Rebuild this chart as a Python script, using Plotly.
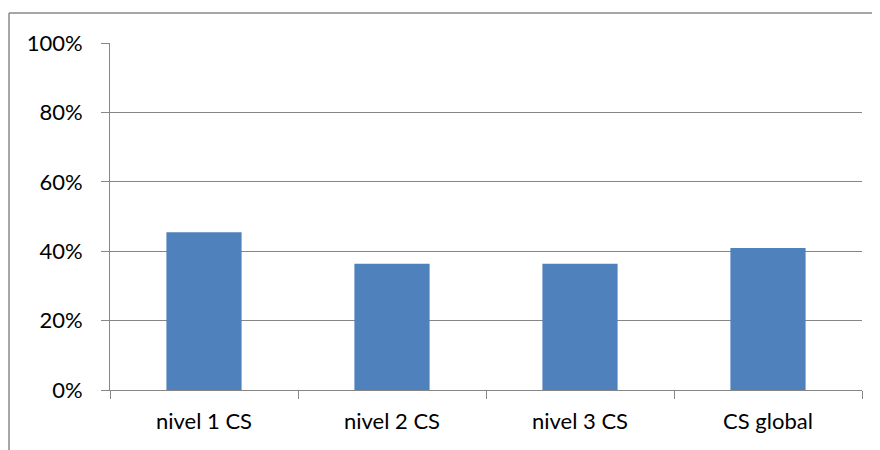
import plotly.graph_objects as go

categories = ["nivel 1 CS", "nivel 2 CS", "nivel 3 CS", "CS global"]
values = [0.4545, 0.3636, 0.3636, 0.4091]
y_ticks = [0, 0.2, 0.4, 0.6, 0.8, 1.0]
y_tick_labels = ["0%", "20%", "40%", "60%", "80%", "100%"]

# the page body adds an 8px offset, so the figure is sized/positioned to compensate
OFF = 8
W, H = 880 - OFF, 450 - OFF
L, R, T, B = 110 - OFF, 18, 43 - OFF, 60
pw, ph = W - L - R, H - T - B

grid = "#868686"
font = dict(family="Lato, Open Sans, sans-serif", size=22, color="#000000")

fig = go.Figure(go.Bar(x=categories, y=values, marker=dict(color="#4F81BD", line=dict(width=0)), width=0.4))

fig.update_layout(
    width=W, height=H,
    margin=dict(l=L, r=R, t=T, b=B),
    paper_bgcolor="white", plot_bgcolor="white",
    showlegend=False,
    font=font,
    xaxis=dict(
        type="category", tickson="boundaries", ticks="outside", ticklen=8, tickcolor=grid,
        showline=True, linecolor=grid, linewidth=1, showgrid=False,
        tickfont=font, ticklabelstandoff=12,
    ),
    yaxis=dict(
        range=[0, 1], tickvals=y_ticks, ticktext=y_tick_labels,
        ticks="outside", ticklen=8, tickcolor=grid,
        showline=True, linecolor=grid, linewidth=1,
        showgrid=True, gridcolor=grid, gridwidth=1, zeroline=False,
        tickfont=font, ticklabelstandoff=14,
    ),
)

# outer chart-area border (partially cut off at right and bottom)
x0 = (9 - OFF - L) / pw
x1 = (W + 10 - L) / pw
y1 = (H - B - (13 - OFF)) / ph
y0 = -(B + 10) / ph
fig.add_shape(type="line", xref="paper", yref="paper", x0=x0, x1=x0, y0=y0, y1=y1, line=dict(color="#888888", width=1.5))
fig.add_shape(type="line", xref="paper", yref="paper", x0=x0, x1=x1, y0=y1, y1=y1, line=dict(color="#888888", width=1.5))

fig.write_html("out.html")
